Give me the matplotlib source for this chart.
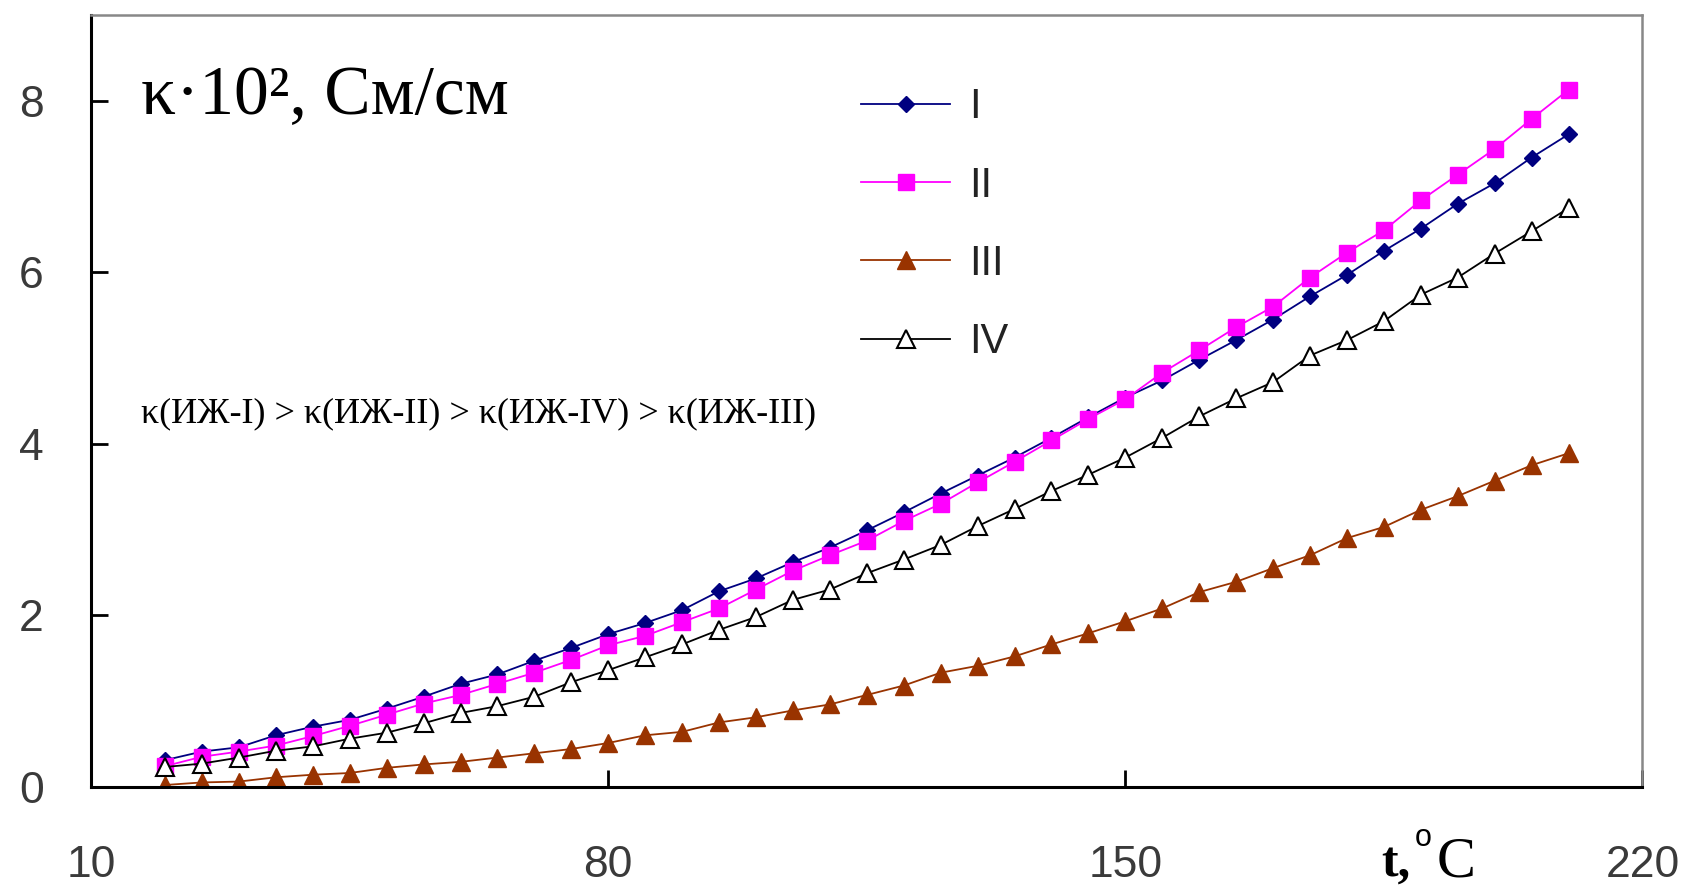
import matplotlib.pyplot as plt

# temperature, deg C
t = list(range(20, 211, 5))

# conductivity k*10^2, S/cm
k_I = [0.31, 0.41, 0.46, 0.60, 0.70, 0.78, 0.91, 1.05, 1.20, 1.31,
       1.47, 1.62, 1.78, 1.91, 2.06, 2.28, 2.43, 2.62, 2.79, 2.99,
       3.20, 3.42, 3.63, 3.84, 4.07, 4.31, 4.54, 4.74, 4.98, 5.21,
       5.45, 5.72, 5.97, 6.25, 6.51, 6.80, 7.04, 7.34, 7.61]
k_II = [0.24, 0.35, 0.41, 0.48, 0.59, 0.71, 0.84, 0.97, 1.07, 1.20,
        1.33, 1.48, 1.65, 1.76, 1.92, 2.08, 2.30, 2.52, 2.70, 2.87,
        3.10, 3.30, 3.55, 3.79, 4.04, 4.29, 4.52, 4.83, 5.09, 5.36,
        5.60, 5.94, 6.23, 6.49, 6.84, 7.14, 7.44, 7.79, 8.13]
k_III = [0.02, 0.05, 0.06, 0.11, 0.14, 0.16, 0.22, 0.26, 0.29, 0.34,
         0.39, 0.44, 0.51, 0.60, 0.64, 0.75, 0.81, 0.89, 0.96, 1.07,
         1.18, 1.33, 1.41, 1.52, 1.66, 1.79, 1.93, 2.08, 2.27, 2.39,
         2.55, 2.70, 2.90, 3.03, 3.23, 3.39, 3.57, 3.75, 3.89]
k_IV = [0.23, 0.27, 0.34, 0.42, 0.47, 0.56, 0.63, 0.74, 0.86, 0.94,
        1.05, 1.22, 1.36, 1.51, 1.66, 1.83, 1.98, 2.18, 2.30, 2.49,
        2.65, 2.82, 3.04, 3.24, 3.45, 3.64, 3.84, 4.07, 4.32, 4.53,
        4.72, 5.03, 5.21, 5.43, 5.74, 5.94, 6.22, 6.48, 6.75]

labels = ['I', 'II', 'III', 'IV']
x_ticks = [10, 80, 150, 220]
y_ticks = [0, 2, 4, 6, 8]

fig = plt.figure(figsize=(16.88, 8.94), dpi=100)
ax = fig.add_axes([0.054, 0.12, 0.919, 0.863])

ax.plot(t, k_I, color='#000080', marker='D', markersize=8, lw=1.3, label=labels[0])
ax.plot(t, k_II, color='#ff00ff', marker='s', markersize=11, lw=1.3, label=labels[1])
ax.plot(t, k_III, color='#993300', marker='^', markersize=13, lw=1.3, label=labels[2])
ax.plot(t, k_IV, color='black', marker='^', markersize=13, markerfacecolor='white',
        markeredgecolor='black', markeredgewidth=1.5, lw=1.3, label=labels[3])

ax.set_xlim(10, 220)
ax.set_ylim(0, 9)
ax.set_xticks(x_ticks)
ax.set_yticks(y_ticks)
ax.tick_params(direction='in', length=12, width=2, colors='black',
               labelcolor='#3a3a3a', labelsize=32)
ax.tick_params(axis='x', pad=42)
ax.tick_params(axis='y', pad=34)
for lab in ax.get_xticklabels() + ax.get_yticklabels():
    lab.set_family('Liberation Sans')

ax.spines['left'].set_linewidth(2.2)
ax.spines['bottom'].set_linewidth(2.2)
for s in ['top', 'right']:
    ax.spines[s].set_color('#888888')
    ax.spines[s].set_linewidth(1.8)

ax.text(0.032, 0.894, 'κ·10², См/см', transform=ax.transAxes,
        family='Liberation Serif', fontsize=50, va='center')
ax.text(0.032, 0.483, 'κ(ИЖ-I) > κ(ИЖ-II) > κ(ИЖ-IV) > κ(ИЖ-III)',
        transform=ax.transAxes, family='Liberation Serif', fontsize=26, va='center')

# x axis caption sits between the 150 and 220 labels
fig.text(0.818, 0.020, 't,', family='Liberation Serif', fontsize=36,
         fontweight='bold', va='baseline')
fig.text(0.838, 0.054, 'o', family='Liberation Sans', fontsize=22, va='baseline')
fig.text(0.851, 0.020, 'C', family='Liberation Serif', fontsize=42, va='baseline')

leg = ax.legend(loc='upper left', bbox_to_anchor=(0.472, 0.955), frameon=False,
                handlelength=2.15, labelspacing=0.92, handletextpad=0.45,
                prop={'family': 'Liberation Sans', 'size': 30})
for txt in leg.get_texts():
    txt.set_color('#222222')

plt.savefig('out.png', dpi=100)
plt.close()
